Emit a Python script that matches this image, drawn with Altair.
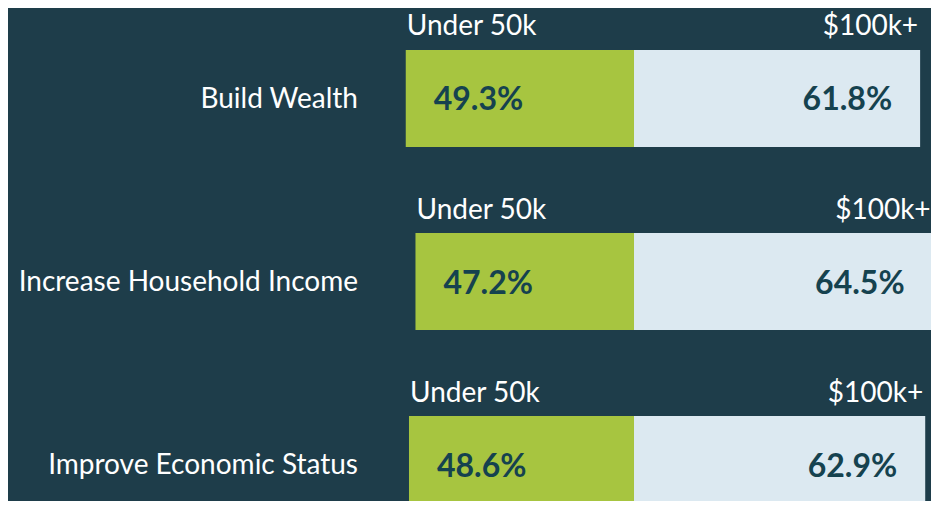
import altair as alt
import pandas as pd

categories = ["Build Wealth", "Increase Household Income", "Improve Economic Status"]
under_50k = [49.3, 47.2, 48.6]
over_100k = [61.8, 64.5, 62.9]
groups = ["Under 50k", "$100k+"]

rows = []
for c, a, b in zip(categories, under_50k, over_100k):
    rows.append({"category": c, "group": groups[0], "start": -a, "end": 0.0,
                 "outer": -a, "label": f"{a:.1f}%"})
    rows.append({"category": c, "group": groups[1], "start": 0.0, "end": b,
                 "outer": b, "label": f"{b:.1f}%"})
df = pd.DataFrame(rows)
cat_df = pd.DataFrame({"category": categories})

BG = "#1e3d4a"
GREEN = "#a7c540"
LIGHT = "#dce9f1"
DARKTXT = "#15424f"
FONT = "Lato"

x_scale = alt.Scale(domain=[-135.21, 64.15], nice=False, zero=False)
y_scale = alt.Scale(domain=categories, range=[42, 505], paddingInner=0.47, paddingOuter=0)

base = alt.Chart(df)

bars = base.mark_bar().encode(
    x=alt.X("start:Q", scale=x_scale, axis=None),
    x2="end:Q",
    y=alt.Y("category:N", scale=y_scale, sort=categories, axis=None),
    color=alt.Color("group:N", scale=alt.Scale(domain=groups, range=[GREEN, LIGHT]),
                    legend=None),
)

cat_labels = alt.Chart(cat_df).mark_text(
    align="right", baseline="alphabetic", dy=9.5, font=FONT, fontSize=28,
    color="#ffffff",
).encode(
    x=alt.value(350),
    y=alt.Y("category:N", scale=y_scale, sort=categories, axis=None),
    text="category:N",
)

def text_layer(group, align, dx, dy, size, weight, color, field):
    return base.transform_filter(alt.datum.group == group).mark_text(
        align=align, baseline="alphabetic", dx=dx, dy=dy, font=FONT,
        fontSize=size, fontWeight=weight, color=color,
    ).encode(
        x=alt.X("outer:Q", scale=x_scale, axis=None),
        y=alt.Y("category:N", scale=y_scale, sort=categories, axis=None),
        text=field,
    )

lbl_low = text_layer(groups[0], "left", 1, -63, 28, "normal", "#ffffff", "group:N")
lbl_high = text_layer(groups[1], "right", -2, -63, 28, "normal", "#ffffff", "group:N")
val_low = text_layer(groups[0], "left", 28, 12, 32, "bold", DARKTXT, "label:N")
val_high = text_layer(groups[1], "right", -28, 12, 32, "bold", DARKTXT, "label:N")

chart = alt.layer(bars, cat_labels, lbl_low, lbl_high, val_low, val_high).properties(
    width=923, height=493, background=BG, padding=0,
    autosize=alt.AutoSizeParams(type="none"),
).configure_view(stroke=None)

chart.save("out.html", embed_options={"renderer": "svg", "actions": False})
